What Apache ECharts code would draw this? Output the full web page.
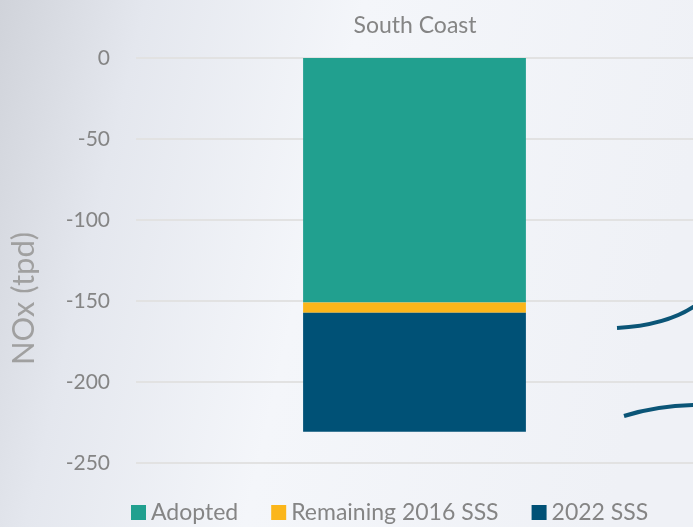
<!DOCTYPE html>
<html>
<head>
<meta charset="utf-8">
<script src="https://cdn.jsdelivr.net/npm/echarts@6/dist/echarts.min.js"></script>
<style>
  html, body { margin: 0; padding: 0; }
  #chart { width: 693px; height: 527px; }
</style>
</head>
<body>
<div id="chart"></div>
<script>
// data
const categories = ["South Coast"];
const adopted = [-151];
const remaining2016 = [-6.2];
const sss2022 = [-73.5];
const yTicks = [0, -50, -100, -150, -200, -250];

const gray = "#858585";
const font = "Lato";

let chart = echarts.init(document.getElementById("chart"));

let option = {
  backgroundColor: new echarts.graphic.LinearGradient(0, 0, 1, 0.3, [
    { offset: 0, color: "#d0d3da" },
    { offset: 0.2, color: "#e4e7ee" },
    { offset: 0.5, color: "#f4f6fa" },
    { offset: 1, color: "#eff1f6" }
  ]),
  color: ["#21a08f", "#fbb61a", "#005176"],
  textStyle: { fontFamily: font },
  title: {
    text: categories[0],
    left: 410,
    textAlign: "center",
    top: 9,
    textStyle: { color: gray, fontSize: 23, fontWeight: "normal", fontFamily: font }
  },
  legend: {
    bottom: -2,
    left: 126,
    itemWidth: 15,
    itemHeight: 15,
    itemGap: 33,
    icon: "rect",
    textStyle: { color: gray, fontSize: 23, fontFamily: font },
    data: ["Adopted", "Remaining 2016 SSS", "2022 SSS"]
  },
  grid: {
    left: 134,
    right: -4,
    top: 58,
    bottom: 64
  },
  xAxis: {
    type: "category",
    data: categories,
    axisLine: { show: false },
    axisTick: { show: false },
    axisLabel: { show: false }
  },
  yAxis: {
    type: "value",
    min: yTicks[yTicks.length - 1],
    max: yTicks[0],
    interval: 50,
    name: "NOx (tpd)",
    nameLocation: "middle",
    nameGap: 97,
    nameTextStyle: { color: "#a0a0a0", fontSize: 31, fontFamily: font, padding: [0, 76, 0, 0] },
    axisLine: { show: false },
    axisTick: { show: false },
    axisLabel: { color: gray, fontSize: 21, margin: 26, fontFamily: font },
    splitLine: { lineStyle: { color: "#e2e2e2", width: 2 } }
  },
  series: [
    { name: "Adopted", type: "bar", stack: "total", barWidth: "40%", data: adopted },
    { name: "Remaining 2016 SSS", type: "bar", stack: "total", data: remaining2016 },
    { name: "2022 SSS", type: "bar", stack: "total", data: sss2022 }
  ],
  // decorative swoosh lines at the right edge
  graphic: [
    {
      type: "bezierCurve",
      shape: { x1: 617, y1: 328, x2: 700, y2: 302, cpx1: 650, cpy1: 326, cpx2: 680, cpy2: 318 },
      style: { stroke: "#0b5577", lineWidth: 4, fill: null }
    },
    {
      type: "bezierCurve",
      shape: { x1: 624, y1: 416, x2: 700, y2: 405, cpx1: 650, cpy1: 408, cpx2: 675, cpy2: 405 },
      style: { stroke: "#0b5577", lineWidth: 4, fill: null }
    }
  ]
};

chart.setOption(option);
</script>
</body>
</html>
